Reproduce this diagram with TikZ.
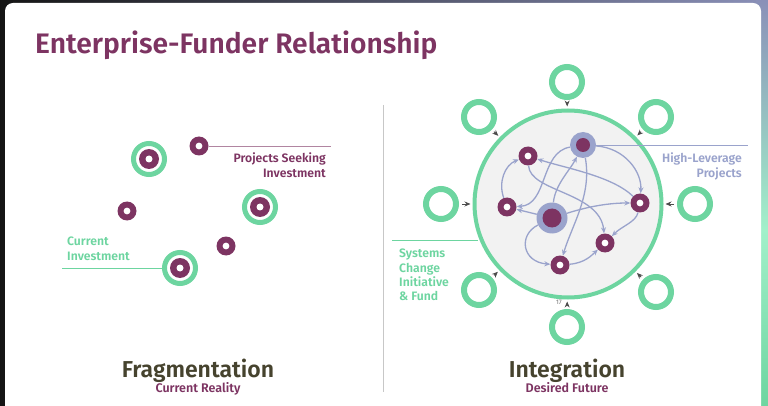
\documentclass[tikz,border=0pt]{standalone}
\usepackage{fontspec}
\setmainfont{Fira Sans}[BoldFont={Fira Sans SemiBold}]
\usetikzlibrary{arrows.meta}
\definecolor{plum}{HTML}{7D3462}
\definecolor{mint}{HTML}{6DD5A0}
\definecolor{lav}{HTML}{9AA3CC}
\definecolor{olive}{HTML}{46432E}
\definecolor{bgpurple}{HTML}{8A90B8}
\definecolor{lightmint}{HTML}{A2F0CA}
\tikzset{
  pdot/.style={circle, fill=plum, minimum size=19pt, inner sep=0pt,
    path picture={\fill[white] (path picture bounding box.center) circle (3.4pt);}},
  gdot/.style={circle, draw=mint, line width=5pt, minimum size=31pt, inner sep=0pt,
    path picture={\fill[plum] (path picture bounding box.center) circle (10pt);
                  \fill[white] (path picture bounding box.center) circle (3.5pt);}},
  gring/.style={circle, draw=mint, line width=6pt, minimum size=30pt, inner sep=0pt, fill=white},
  hub/.style={circle, fill=lav, inner sep=0pt},
  flow/.style={draw=lav, line width=1.3pt, -{Stealth[length=6pt,width=5pt]}},
  feed/.style={draw=black!70, line width=0.9pt, -{Stealth[length=6pt,width=5pt]}, shorten <=3pt, shorten >=2pt},
  lbl/.style={font=\bfseries\fontsize{12.2}{14.3}\selectfont, inner sep=0pt},
}
\begin{document}
\begin{tikzpicture}[x=1pt,y=-1pt]
\useasboundingbox (0,0) rectangle (768,406);
% frame
\shade[left color=black!92, right color=bgpurple] (0,0) rectangle (768,406);
\shade[top color=bgpurple, bottom color=lightmint] (756,0) rectangle (768,230);
\shade[top color=lightmint, bottom color=mint] (756,230) rectangle (768,406);
\fill[white, rounded corners=8pt] (5,3) rectangle (761,430);
% title
\node[anchor=base west, inner sep=0pt, text=plum, font=\bfseries\fontsize{28.2}{34}\selectfont] (title) at (35,54) {Enterprise-Funder Relationship};
% divider
\draw[black!22, line width=0.8pt] (383,105) -- (383,392);
% ---------- left: fragmentation
\node[gdot] (g1) at (149,159) {};
\node[gdot] (g2) at (260,207) {};
\node[gdot] (g3) at (180,268) {};
\node[pdot] (p1) at (199,146) {};
\node[pdot] (p2) at (127,211) {};
\node[pdot] (p3) at (226,246) {};
\coordinate (pse) at (331,146);
\coordinate (cie) at (62,268);
\draw[plum!60, line width=0.8pt] (p1) -- (pse);
\draw[mint, line width=0.8pt] (cie) -- (g3);
\node[lbl, text=plum, align=right, anchor=north east] (pslbl) at (326,153) {Projects Seeking\\Investment};
\node[lbl, text=mint, align=left, anchor=north west] (cilbl) at (67,237) {Current\\Investment};
\node[anchor=base, inner sep=0pt, text=olive, font=\bfseries\fontsize{23}{26}\selectfont] (frag) at (198,377) {Fragmentation};
\node[anchor=base, inner sep=0pt, text=plum, font=\bfseries\fontsize{12.5}{14}\selectfont] (cr) at (198,392) {Current Reality};
% ---------- right: integration
\node[circle, draw=mint, line width=4pt, fill=black!5, minimum size=187pt, inner sep=0pt] (bigc) at (568,204) {};
\foreach \n/\x/\y in {r1/567/82, r2/479/117, r3/656/117, r4/441/204, r5/695/204, r6/479/290, r7/656/292, r8/567/327}{
  \node[gring] (\n) at (\x,\y) {};
  \draw[feed] (\n) -- (bigc);
}
\node[text=black!55, font=\fontsize{6.5}{7}\selectfont, inner sep=0pt] (pg) at (559,302) {17};
% lines to labels
\coordinate (hle) at (748,145);
\coordinate (sce) at (392,240);
\coordinate (scc) at (478,240);
\draw[mint, line width=0.8pt] (sce) -- (scc);
% hubs
\node[hub, minimum size=26pt] (hl) at (583,145) {};
\node[circle, fill=plum, minimum size=14pt, inner sep=0pt] (hlc) at (hl) {};
\draw[lav, line width=0.8pt] (hl) -- (hle);
\node[hub, minimum size=31pt] (ctr) at (552,218) {};
\node[circle, fill=plum, minimum size=19pt, inner sep=0pt] (ctrc) at (ctr) {};
\node[pdot] (a) at (528,156) {};
\node[pdot] (b) at (507,207) {};
\node[pdot] (c) at (640,203) {};
\node[pdot] (d) at (605,243) {};
\node[pdot] (e) at (560,265) {};
\node[lbl, text=lav, align=right, anchor=north east] (hllbl) at (742,153) {High-Leverage\\Projects};
\node[lbl, text=mint, align=left, anchor=north west] (sclbl) at (399,249) {Systems\\Change\\Initiative\\\& Fund};
% flows
\draw[flow] (hl) .. controls (625,148) and (642,172) .. (c);
\draw[flow] (hl) .. controls (592,195) and (572,225) .. (e);
\draw[flow] (ctr) .. controls (555,185) and (570,170) .. (hl);
\draw[flow] (hl) .. controls (540,152) and (548,205) .. (b);
\draw[flow] (b) .. controls (498,182) and (505,165) .. (a);
\draw[flow] (c) .. controls (612,176) and (565,168) .. (a);
\draw[flow] (a) .. controls (530,192) and (600,192) .. (d);
\draw[flow] (ctr) .. controls (590,206) and (610,203) .. (c);
\draw[flow] (ctr) -- (b);
\draw[flow] (ctr) .. controls (518,235) and (522,262) .. (e);
\draw[flow] (e) .. controls (585,263) and (592,255) .. (d);
\draw[flow] (c) .. controls (636,222) and (622,226) .. (d);
\node[anchor=base, inner sep=0pt, text=olive, font=\bfseries\fontsize{23}{26}\selectfont] (integ) at (567,377) {Integration};
\node[anchor=base, inner sep=0pt, text=plum, font=\bfseries\fontsize{12.5}{14}\selectfont] (df) at (567,392) {Desired Future};
\end{tikzpicture}
\end{document}
